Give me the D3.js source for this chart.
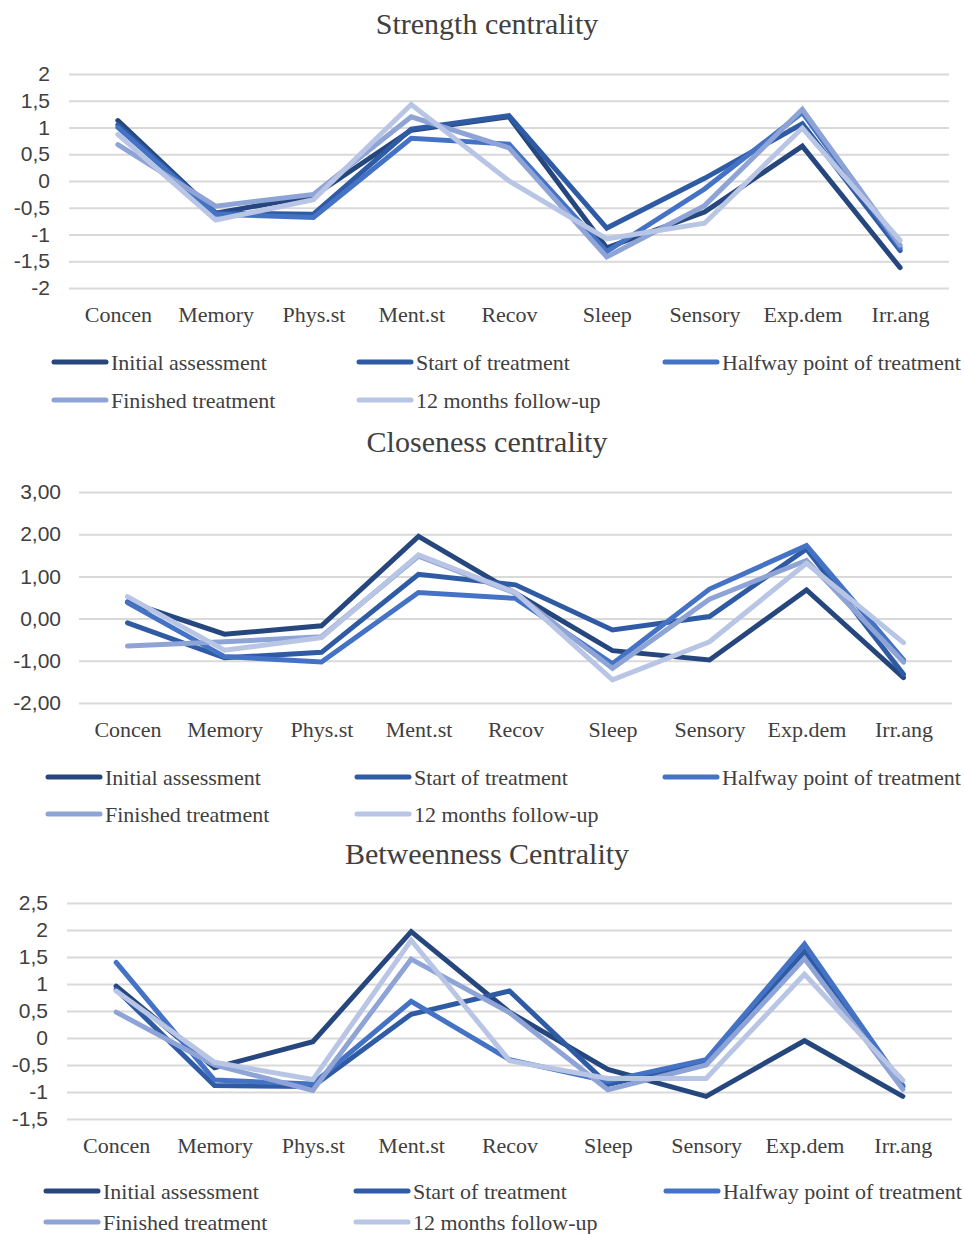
<!DOCTYPE html>
<html>
<head>
<meta charset="utf-8">
<script src="https://cdn.jsdelivr.net/npm/d3@7"></script>
<style>
  body { margin: 0; background: #fff; }
  svg { display: block; }
  .grid line { stroke: #d9d9d9; stroke-width: 2; }
  .grid .domain { display: none; }
  .ylab text { font-family: "Liberation Sans", Arial, sans-serif; font-size: 21px; fill: #404040; }
  .xlab text { font-family: "Liberation Serif", "Times New Roman", serif; font-size: 22px; fill: #404040; }
  .xlab .domain, .xlab line { display: none; }
</style>
</head>
<body>
<div id="chart"></div>
<script>
// Categories and series
const categories = ["Concen", "Memory", "Phys.st", "Ment.st", "Recov", "Sleep", "Sensory", "Exp.dem", "Irr.ang"];
const seriesNames = ["Initial assessment", "Start of treatment", "Halfway point of treatment", "Finished treatment", "12 months follow-up"];
const seriesColors = ["#26477d", "#2f5ba5", "#4472c4", "#8ea3d6", "#b8c5e4"];

// Strength centrality
const strengthInitial  = [1.13, -0.6, -0.28, 0.95, 1.2, -1.25, -0.58, 0.65, -1.62];
const strengthStart    = [1.05, -0.6, -0.62, 0.97, 1.22, -0.88, 0.05, 1.07, -1.3];
const strengthHalfway  = [1.0, -0.62, -0.68, 0.8, 0.69, -1.32, -0.15, 1.28, -1.25];
const strengthFinished = [0.68, -0.47, -0.25, 1.2, 0.62, -1.42, -0.46, 1.34, -1.2];
const strengthFollowUp = [0.87, -0.73, -0.35, 1.43, 0.0, -1.08, -0.79, 0.99, -1.11];
const strengthTicks = [-2, -1.5, -1, -0.5, 0, 0.5, 1, 1.5, 2];

// Closeness centrality
const closenessInitial  = [0.4, -0.37, -0.17, 1.95, 0.6, -0.76, -0.98, 0.68, -1.4];
const closenessStart    = [-0.1, -0.93, -0.8, 1.05, 0.8, -0.27, 0.05, 1.65, -1.32];
const closenessHalfway  = [0.38, -0.9, -1.03, 0.62, 0.48, -1.07, 0.7, 1.73, -0.98];
const closenessFinished = [-0.65, -0.55, -0.43, 1.48, 0.6, -1.18, 0.46, 1.38, -1.03];
const closenessFollowUp = [0.52, -0.75, -0.45, 1.51, 0.62, -1.45, -0.55, 1.31, -0.57];
const closenessTicks = [-2, -1, 0, 1, 2, 3];

// Betweenness centrality
const betweenInitial  = [0.96, -0.55, -0.07, 1.97, 0.48, -0.58, -1.08, -0.05, -1.08];
const betweenStart    = [0.9, -0.88, -0.9, 0.44, 0.87, -0.86, -0.45, 1.6, -0.9];
const betweenHalfway  = [1.4, -0.78, -0.85, 0.68, -0.4, -0.8, -0.4, 1.74, -0.88];
const betweenFinished = [0.48, -0.5, -0.97, 1.46, 0.47, -0.96, -0.5, 1.47, -0.95];
const betweenFollowUp = [0.87, -0.45, -0.77, 1.81, -0.42, -0.75, -0.75, 1.18, -0.78];
const betweenTicks = [-1.5, -1, -0.5, 0, 0.5, 1, 1.5, 2, 2.5];

const commaFmt = v => String(v).replace(".", ",");
const fixedFmt = v => v.toFixed(2).replace(".", ",");

const charts = [
  { title: "Strength centrality", titleY: 34, x0: 69, x1: 949, yTop: 74, yBot: 288,
    ticks: strengthTicks, fmt: commaFmt, pad: 19, catY: 322,
    data: [strengthInitial, strengthStart, strengthHalfway, strengthFinished, strengthFollowUp],
    legY: [362, 400], legX: [52, 357, 663] },
  { title: "Closeness centrality", titleY: 452, x0: 79, x1: 952, yTop: 492, yBot: 703,
    ticks: closenessTicks, fmt: fixedFmt, pad: 18, catY: 737,
    data: [closenessInitial, closenessStart, closenessHalfway, closenessFinished, closenessFollowUp],
    legY: [777, 814], legX: [46, 355, 663] },
  { title: "Betweenness Centrality", titleY: 864, x0: 67, x1: 952, yTop: 903, yBot: 1119,
    ticks: betweenTicks, fmt: commaFmt, pad: 19, catY: 1153,
    data: [betweenInitial, betweenStart, betweenHalfway, betweenFinished, betweenFollowUp],
    legY: [1191, 1222], legX: [44, 354, 664] }
];

const svg = d3.select("#chart").append("svg")
  .attr("width", 964)
  .attr("height", 1234);

charts.forEach(c => {
  const x = d3.scalePoint().domain(categories).range([c.x0, c.x1]).padding(0.5);
  const y = d3.scaleLinear().domain([d3.min(c.ticks), d3.max(c.ticks)]).range([c.yBot, c.yTop]);

  svg.append("text")
    .attr("x", 487)
    .attr("y", c.titleY)
    .attr("text-anchor", "middle")
    .style("font-family", "'Liberation Serif', 'Times New Roman', serif")
    .style("font-size", "30px")
    .style("fill", "#404040")
    .text(c.title);

  // gridlines + y labels
  svg.append("g")
    .attr("class", "grid ylab")
    .attr("transform", `translate(${c.x0},0)`)
    .call(d3.axisLeft(y).tickValues(c.ticks).tickFormat(c.fmt)
      .tickSize(-(c.x1 - c.x0)).tickPadding(c.pad));

  // category labels
  svg.append("g")
    .attr("class", "xlab")
    .attr("transform", `translate(0,${c.catY - 16})`)
    .call(d3.axisBottom(x).tickSize(0).tickPadding(0));

  const line = d3.line()
    .x((d, i) => x(categories[i]))
    .y(d => y(d));

  c.data.forEach((values, s) => {
    svg.append("path")
      .datum(values)
      .attr("d", line)
      .attr("fill", "none")
      .attr("stroke", seriesColors[s])
      .attr("stroke-width", 5)
      .attr("stroke-linejoin", "miter")
      .attr("stroke-linecap", "round");
  });

  // legend
  seriesNames.forEach((name, s) => {
    const row = s < 3 ? 0 : 1;
    const col = s < 3 ? s : s - 3;
    const lx = c.legX[col];
    const ly = c.legY[row];
    svg.append("line")
      .attr("x1", lx + 2).attr("x2", lx + 54)
      .attr("y1", ly).attr("y2", ly)
      .attr("stroke", seriesColors[s])
      .attr("stroke-width", 5)
      .attr("stroke-linecap", "round");
    svg.append("text")
      .attr("x", lx + 59)
      .attr("y", ly + 8)
      .style("font-family", "'Liberation Serif', 'Times New Roman', serif")
      .style("font-size", "22px")
      .style("fill", "#404040")
      .text(name);
  });
});
</script>
</body>
</html>
